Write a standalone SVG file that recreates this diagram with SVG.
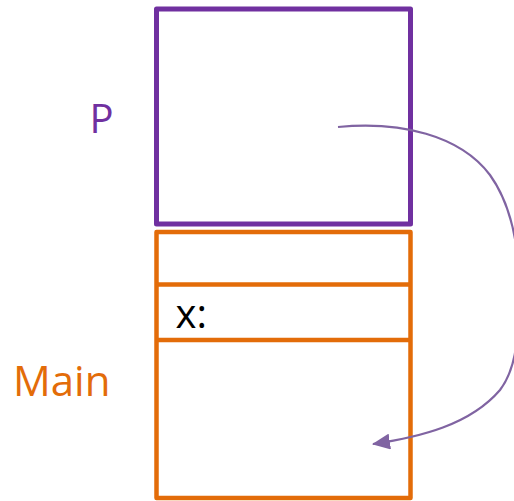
<svg xmlns="http://www.w3.org/2000/svg" width="514" height="501" viewBox="0 0 514 501">
<style>
.lbl{font-family:"Open Sans",sans-serif;font-size:40px}
.frame{fill:none;stroke-linejoin:round}
</style>
<defs>
<marker id="ah" markerUnits="userSpaceOnUse" markerWidth="20" markerHeight="16" refX="17" refY="8" orient="auto">
<path d="M0,0 L18,8 L0,16 Z" fill="#8064A2"/>
</marker>
</defs>
<rect width="514" height="501" fill="#fff"/>
<g id="node-P">
<rect class="frame" x="156.5" y="9" width="254" height="215" stroke="#7030A0" stroke-width="5"/>
<text class="lbl" x="89.5" y="133" fill="#7030A0">P</text>
</g>
<g id="node-Main">
<rect class="frame" x="156.5" y="232" width="254" height="266" stroke="#E36C09" stroke-width="4.5"/>
<line x1="156.5" y1="284.5" x2="410.5" y2="284.5" stroke="#E36C09" stroke-width="4.5"/>
<line x1="156.5" y1="340" x2="410.5" y2="340" stroke="#E36C09" stroke-width="4.5"/>
<text class="lbl" x="13" y="396" fill="#E36C09" style="font-size:42px">Main</text>
<text class="lbl" x="175.5" y="328" fill="#000">x:</text>
</g>
<g id="connectors">
<path d="M338,127 C400,121 460,135 490,175 C515,210 520,260 519,300 C518,345 515,370 500,390 C470,425 420,437 373,444" fill="none" stroke="#8064A2" stroke-width="2.2" marker-end="url(#ah)"/>
</g>
</svg>
